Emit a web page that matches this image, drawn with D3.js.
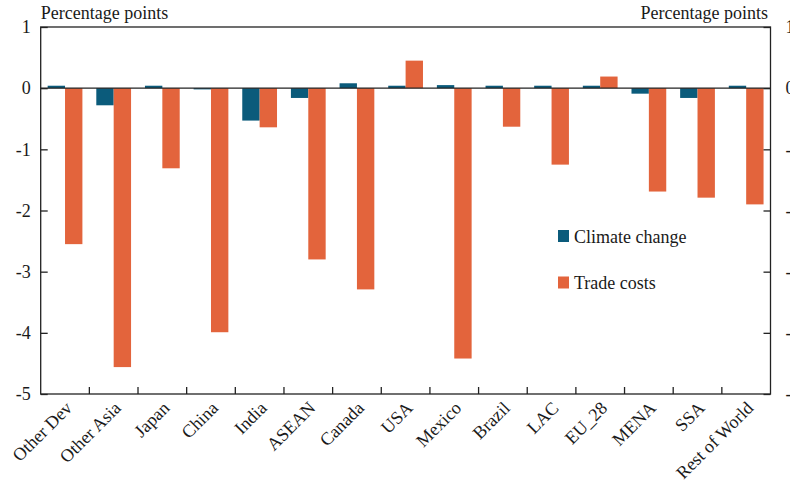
<!DOCTYPE html>
<html>
<head>
<meta charset="utf-8">
<script src="https://cdn.jsdelivr.net/npm/d3@7"></script>
<style>
  body { margin: 0; background: #fff; }
  svg text { font-family: "Liberation Serif", "DejaVu Serif", serif; fill: #1a1a1a; }
</style>
</head>
<body>
<svg id="chart" width="790" height="483"></svg>
<script>
const categories = ["Other Dev","Other Asia","Japan","China","India","ASEAN","Canada","USA","Mexico","Brazil","LAC","EU_28","MENA","SSA","Rest of World"];
const climateChange = [0.04,-0.28,0.04,-0.02,-0.53,-0.16,0.08,0.04,0.05,0.04,0.04,0.04,-0.09,-0.16,0.04];
const tradeCosts = [-2.55,-4.56,-1.31,-3.99,-0.64,-2.80,-3.29,0.45,-4.42,-0.63,-1.25,0.19,-1.69,-1.79,-1.90];
const seriesNames = ["Climate change","Trade costs"];
const yTicks = [1,0,-1,-2,-3,-4,-5];

const colors = ["#0b5b7b", "#e3643c"];
const W = 790, H = 483;
const m = {left: 40.7, right: 770.5, top: 27, bottom: 394};
const FS = "18px";
const fmt = d => String(d);

const svg = d3.select("#chart");
const x = d3.scaleBand().domain(categories).range([m.left, m.right]).paddingInner(0).paddingOuter(0);
const y = d3.scaleLinear().domain([-5, 1]).range([m.bottom, m.top]);
const inner = d3.scaleBand().domain(seriesNames).range([0, x.bandwidth()]).paddingInner(0).paddingOuter(0.4);

const data = categories.map((c, i) => ({c, vals: [climateChange[i], tradeCosts[i]]}));

const g = svg.append("g");
data.forEach(d => {
  d.vals.forEach((v, k) => {
    g.append("rect")
      .attr("x", x(d.c) + inner(seriesNames[k]))
      .attr("width", inner.bandwidth())
      .attr("y", y(Math.max(0, v)))
      .attr("height", Math.abs(y(v) - y(0)))
      .attr("fill", colors[k]);
  });
});

// zero line
svg.append("line").attr("x1", m.left).attr("x2", m.right)
  .attr("y1", y(0)).attr("y2", y(0)).attr("stroke", "#222").attr("stroke-width", 1.3);

// frame
svg.append("rect").attr("x", m.left).attr("y", m.top)
  .attr("width", m.right - m.left).attr("height", m.bottom - m.top)
  .attr("fill", "none").attr("stroke", "#222").attr("stroke-width", 1.3);

// left axis
const yl = svg.append("g").attr("transform", `translate(${m.left},0)`)
  .call(d3.axisLeft(y).tickValues(yTicks).tickFormat(fmt).tickSizeInner(-7).tickSizeOuter(0).tickPadding(10));
yl.select(".domain").remove();
yl.selectAll("line").attr("stroke", "#222").attr("stroke-width", 1.3);
yl.selectAll("text").style("font-size", FS).attr("fill", "#1a1a1a");

// right axis
const yr = svg.append("g").attr("transform", `translate(${m.right},0)`)
  .call(d3.axisRight(y).tickValues(yTicks).tickFormat(fmt).tickSizeInner(-7).tickSizeOuter(0).tickPadding(15));
yr.select(".domain").remove();
yr.selectAll("line").attr("stroke", "#222").attr("stroke-width", 1.3);
yr.selectAll("text").style("font-size", FS).attr("fill", "#1a1a1a");

// bottom ticks at band boundaries
const bounds = categories.slice(1).map(c => x(c));
svg.append("g").selectAll("line").data(bounds).join("line")
  .attr("x1", d => d).attr("x2", d => d)
  .attr("y1", m.bottom).attr("y2", m.bottom - 7)
  .attr("stroke", "#222").attr("stroke-width", 1.3);

// category labels
svg.append("g").selectAll("text").data(categories).join("text")
  .attr("transform", d => `translate(${x(d) + x.bandwidth()/2 - 1},${m.bottom + 6}) rotate(-45)`)
  .attr("text-anchor", "end")
  .attr("dy", "0.72em")
  .style("font-size", FS)
  .text(d => d);

// axis titles
svg.append("text").attr("x", m.left).attr("y", 19).style("font-size", FS).text("Percentage points");
svg.append("text").attr("x", 768).attr("y", 19).attr("text-anchor", "end").style("font-size", FS).text("Percentage points");

// legend
const lg = svg.append("g");
seriesNames.forEach((s, k) => {
  const yy = 230 + k * 46.5;
  lg.append("rect").attr("x", 558).attr("y", yy).attr("width", 11).attr("height", 12).attr("fill", colors[k]);
  lg.append("text").attr("x", 574).attr("y", yy + 12.5).style("font-size", FS).text(s);
});
</script>
</body>
</html>
